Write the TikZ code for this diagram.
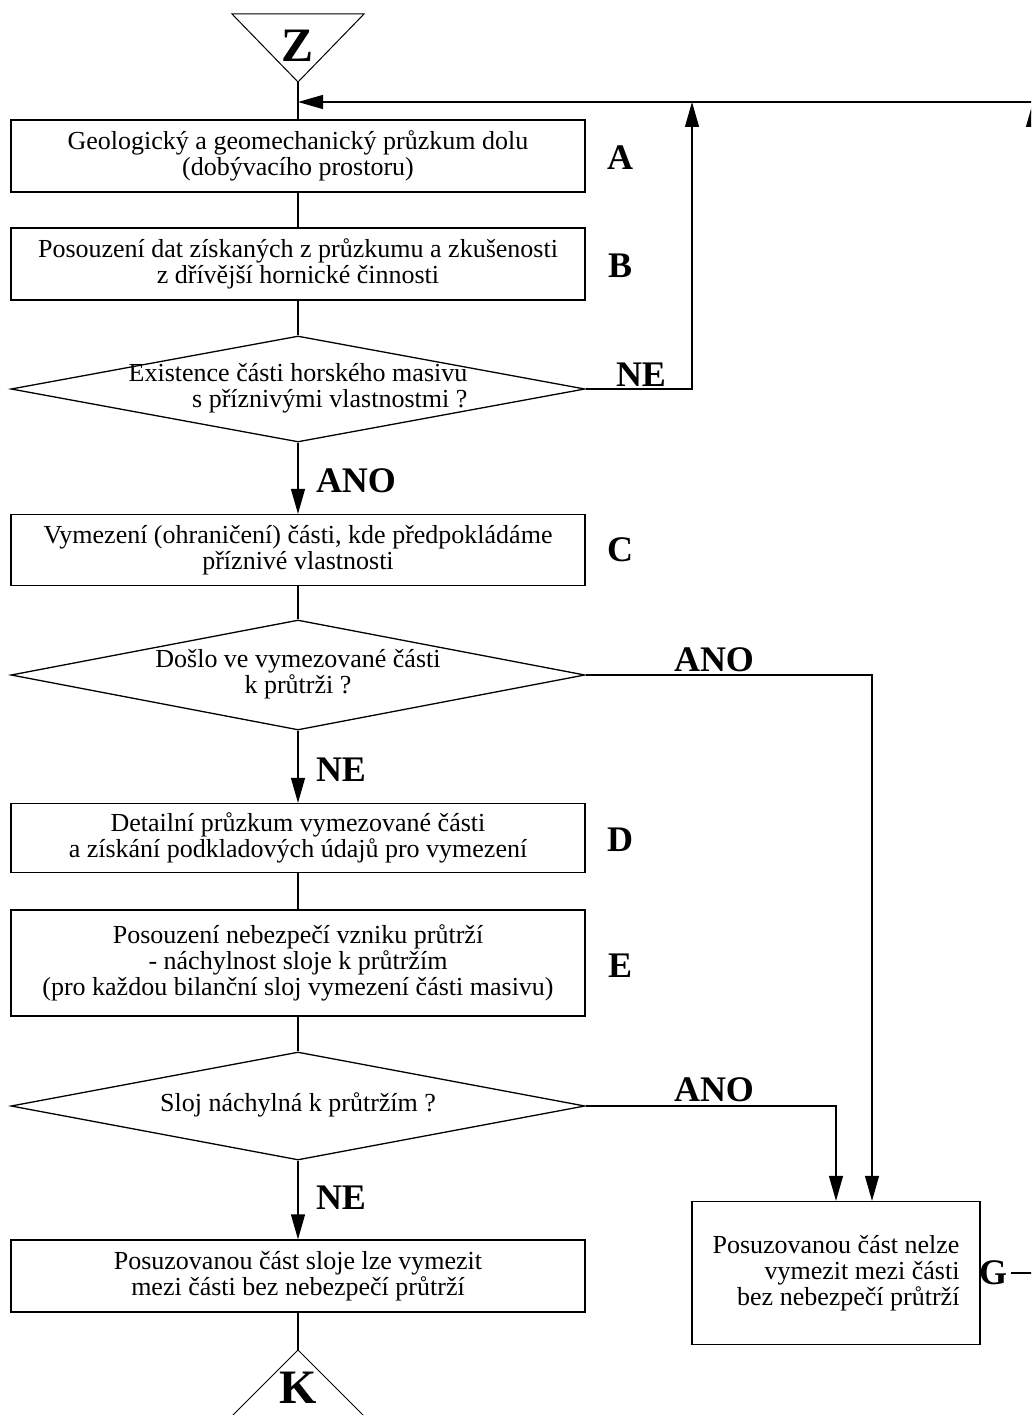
\documentclass[tikz,border=0pt]{standalone}
\usepackage{fontspec}
\setmainfont{Liberation Serif}
\usetikzlibrary{shapes.geometric,arrows.meta}

\newcommand{\boxfont}{\fontsize{26}{26}\selectfont}
\newcommand{\tagfont}{\fontsize{36}{36}\selectfont\bfseries}
\newcommand{\markfont}{\fontsize{48}{48}\selectfont\bfseries}
\newcommand{\flattext}[2][c]{\smash{\makebox[0pt]{\raisebox{-0.25em}{\begin{tabular}{@{}#1@{}}#2\end{tabular}}}}}

\begin{document}
\begin{tikzpicture}[x=1pt, y=-1pt, line width=1.3pt,
  box/.style={draw, rectangle, minimum width=574pt, inner sep=0pt, align=center, font=\boxfont},
  decision/.style={draw, diamond, minimum width=574pt, inner sep=0pt, font=\boxfont},
  tag/.style={inner sep=3pt, font=\tagfont},
  endletter/.style={inner sep=0pt, font=\markfont},
  flow/.style={-{Triangle[length=25pt,width=14pt]}}]
%% page 1031 x 1415, cut on the right
\useasboundingbox (0,0) rectangle (1031,1415);
\clip (0,0) rectangle (1031,1415);

%% --- start mark ---
\node[endletter] (z) at (298,46) {Z};
\coordinate (zt) at (298,82);
\draw[line width=1pt] (232,14) -- (364,14) -- (zt) -- cycle;

%% --- steps ---
\node[box, minimum height=72pt] (a) at (298,156) {Geologický a geomechanický průzkum dolu\\(dobývacího prostoru)};
\node[box, minimum height=72pt] (b) at (298,264) {Posouzení dat získaných z průzkumu a zkušenosti\\z dřívější hornické činnosti};
\node[decision, minimum height=106pt] (q1) at (298,389) {\flattext[r]{Existence části horského masivu\\s příznivými vlastnostmi ?}};
\node[box, minimum height=71pt] (c) at (298,550) {Vymezení (ohraničení) části, kde předpokládáme\\příznivé vlastnosti};
\node[decision, minimum height=110pt] (q2) at (298,675) {\flattext{Došlo ve vymezované části\\k průtrži ?}};
\node[box, minimum height=69pt] (d) at (298,838) {Detailní průzkum vymezované části\\a získání podkladových údajů pro vymezení};
\node[box, minimum height=106pt] (e) at (298,963) {Posouzení nebezpečí vzniku průtrží\\- náchylnost sloje k průtržím\\(pro každou bilanční sloj vymezení části masivu)};
\node[decision, minimum height=108pt] (q3) at (298,1106) {\flattext{Sloj náchylná k průtržím ?}};
\node[box, minimum height=72pt] (f) at (298,1276) {Posuzovanou část sloje lze vymezit\\mezi části bez nebezpečí průtrží};
\node[box, minimum width=288pt, minimum height=143pt, align=right] (g) at (836,1273) {Posuzovanou část nelze\\vymezit mezi části\\bez nebezpečí průtrží};

%% --- letters ---
\foreach \n/\t/\y in {la/A/158, lb/B/266, lc/C/550, ld/D/840, le/E/966}{
  \node[tag] (\n) at (620,\y) {\t};
}
\node[tag] (lg) at (993,1273) {G};

%% --- answers ---
\node[tag] (ne1t) at (641,375) {NE};
\node[tag] (ano1t) at (356,481) {ANO};
\node[tag] (ano2t) at (714,660) {ANO};
\node[tag] (ne2t) at (341,770) {NE};
\node[tag] (ano3t) at (714,1090) {ANO};
\node[tag] (ne3t) at (341,1198) {NE};

%% --- main line ---
\draw (zt) -- (a);
\draw (a) -- (b);
\draw (b) -- (q1);
\draw[flow] (q1) -- (c);
\draw (c) -- (q2);
\draw[flow] (q2) -- (d);
\draw (d) -- (e);
\draw (e) -- (q3);
\draw[flow] (q3) -- (f);

%% --- end mark ---
\coordinate (kt) at (298,1350);
\draw (f) -- (kt);
\draw[line width=1pt] (231,1417) -- (kt) -- (365,1417);
\node[endletter] (k) at (298,1388) {K};

%% --- branches ---
\coordinate (back) at (298,102);
\coordinate (ne1) at (692,102);
\coordinate (gup) at (1033,102);
\draw[flow] (q1.east) -| (ne1);
\draw[flow] (lg.east) -| (gup);
\draw[flow] (gup) -- (back);
\draw[flow] (q2.east) -| ([xshift=36pt]g.north);
\draw[flow] (q3.east) -| (g.north);
\end{tikzpicture}
\end{document}
